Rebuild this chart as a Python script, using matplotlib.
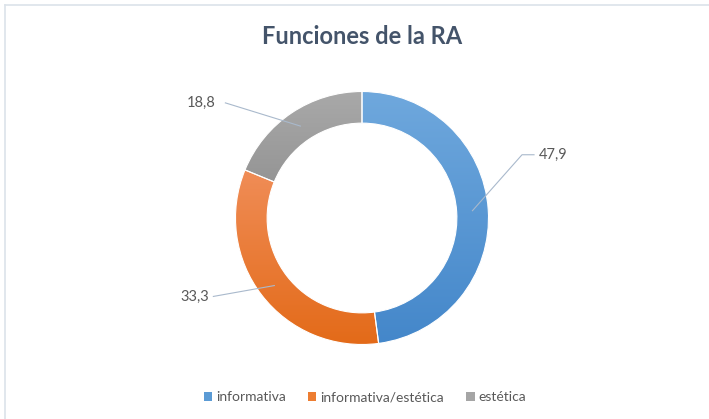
import numpy as np
import matplotlib
matplotlib.use("Agg")
import matplotlib.pyplot as plt
from matplotlib.patches import Patch
from matplotlib.colors import LinearSegmentedColormap
from matplotlib.lines import Line2D

plt.rcParams['font.family'] = ['Lato', 'DejaVu Sans']

# data
categories = ["informativa", "informativa/estética", "estética"]
values = [47.9, 33.3, 18.8]
value_labels = ["47,9", "33,3", "18,8"]
top_colors = ["#6FA8DD", "#F08D57", "#A9A9A9"]
bottom_colors = ["#4487CA", "#E36A18", "#8D8D8D"]
legend_colors = ["#5B9BD5", "#ED7D31", "#A5A5A5"]

W, H = 709, 419
fig = plt.figure(figsize=(W / 100, H / 100), dpi=100)

# border of the chart area (top and left only)
fig.add_artist(Line2D([5 / W, 1], [1 - 5 / H, 1 - 5 / H], color="#DCE3EA", lw=1.2))
fig.add_artist(Line2D([5 / W, 5 / W], [0, 1 - 5 / H], color="#DCE3EA", lw=1.2))

# axes covering the figure, 1 unit = outer radius in px
R = 126.5
cx, cy = 362, 218
ax = fig.add_axes([0, 0, 1, 1])
wedges, _ = ax.pie(values, startangle=90, counterclock=False, radius=1,
                   wedgeprops=dict(width=0.25, edgecolor="white", linewidth=0.8))
ax.set_aspect("auto")
ax.set_xlim(-cx / R, (W - cx) / R)
ax.set_ylim(-(H - cy) / R, cy / R)
ax.axis("off")

# vertical gradient fill per wedge
for w, c1, c2 in zip(wedges, top_colors, bottom_colors):
    w.set_facecolor("none")
    verts = w.get_path().vertices
    x0, x1 = verts[:, 0].min(), verts[:, 0].max()
    y0, y1 = verts[:, 1].min(), verts[:, 1].max()
    cmap = LinearSegmentedColormap.from_list("g", [c2, c1])
    grad = np.linspace(0, 1, 256).reshape(-1, 1)
    im = ax.imshow(grad, cmap=cmap, origin="lower", aspect="auto",
                   extent=(x0, x1, y0, y1), zorder=1)
    im.set_clip_path(w)
    w.set_zorder(2)

ax.set_xlim(-cx / R, (W - cx) / R)
ax.set_ylim(-(H - cy) / R, cy / R)

# data labels with leader lines
label_pos = [(1.40, 0.50), (-1.21, -0.62), (-1.16, 0.91)]
elbow = [(1.265, 1.36), (-1.175, None), (-1.08, None)]
cum = 0
for i, v in enumerate(values):
    mid = np.deg2rad(90 - (cum + v / 2) * 3.6)
    cum += v
    px, py = 0.875 * np.cos(mid), 0.875 * np.sin(mid)
    tx, ty = label_pos[i]
    if i == 0:
        xs = [px, elbow[0][0], elbow[0][1]]
        ys = [py, ty, ty]
        ha = "left"
    else:
        xs = [px, elbow[i][0]]
        ys = [py, ty]
        ha = "right"
    ax.plot(xs, ys, color="#A9B9CC", lw=0.8, zorder=3)
    ax.text(tx, ty, value_labels[i], ha=ha, va="center", fontsize=10.5,
            color="#595959", zorder=4)

fig.text(362 / W, 1 - 37 / H, "Funciones de la RA", ha="center", va="center",
         fontsize=17, fontweight="bold", color="#44546A")

handles = [Patch(facecolor=c, edgecolor="none") for c in legend_colors]
fig.legend(handles, categories, loc="center", bbox_to_anchor=(365 / W, 1 - 397 / H),
           ncol=3, frameon=False, fontsize=10, labelcolor="#595959",
           handlelength=0.6, handleheight=0.6, handletextpad=0.3, columnspacing=1.6)

fig.savefig("out.png", dpi=100)
